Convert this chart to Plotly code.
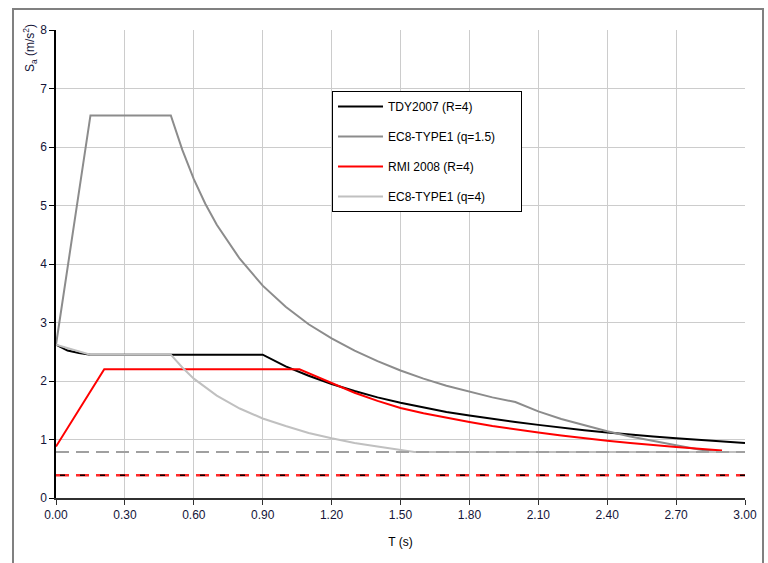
import plotly.graph_objects as go

# ---- data ----
tdy_T = [0.0, 0.05, 0.10, 0.15, 0.90, 1.0, 1.1, 1.2, 1.3, 1.4, 1.5, 1.6, 1.7, 1.8, 1.9, 2.0,
         2.1, 2.2, 2.3, 2.4, 2.5, 2.6, 2.7, 2.8, 2.9, 3.0]
tdy_Sa = [2.62, 2.52, 2.48, 2.45, 2.45, 2.25, 2.09, 1.95, 1.83, 1.72, 1.63, 1.55, 1.47, 1.41, 1.35, 1.30,
          1.25, 1.20, 1.16, 1.12, 1.08, 1.05, 1.02, 0.99, 0.96, 0.94]

ec8a_T = [0.0, 0.15, 0.50, 0.55, 0.60, 0.65, 0.70, 0.80, 0.90, 1.0, 1.1, 1.2, 1.3, 1.4, 1.5, 1.6,
          1.7, 1.8, 1.9, 2.0, 2.1, 2.2, 2.3, 2.4, 2.5, 2.6, 2.7, 2.8, 2.88, 3.0]
ec8a_Sa = [2.62, 6.54, 6.54, 5.95, 5.45, 5.03, 4.67, 4.09, 3.63, 3.27, 2.97, 2.73, 2.52, 2.34, 2.18, 2.04,
           1.92, 1.82, 1.72, 1.64, 1.48, 1.35, 1.24, 1.14, 1.05, 0.97, 0.90, 0.83, 0.785, 0.785]

rmi_T = [0.0, 0.21, 1.06, 1.2, 1.3, 1.4, 1.5, 1.6, 1.7, 1.8, 1.9, 2.0, 2.1, 2.2, 2.3, 2.4,
         2.5, 2.6, 2.7, 2.8, 2.9]
rmi_Sa = [0.88, 2.20, 2.20, 1.96, 1.80, 1.66, 1.54, 1.45, 1.37, 1.30, 1.23, 1.17, 1.12, 1.07, 1.02, 0.98,
          0.94, 0.90, 0.87, 0.84, 0.81]

ec8b_T = [0.0, 0.15, 0.50, 0.55, 0.60, 0.70, 0.80, 0.90, 1.0, 1.1, 1.2, 1.3, 1.4, 1.5, 1.56, 3.0]
ec8b_Sa = [2.62, 2.45, 2.45, 2.23, 2.04, 1.75, 1.53, 1.36, 1.23, 1.11, 1.02, 0.94, 0.88, 0.82, 0.785, 0.785]

limit_T = [0.0, 3.0]
limit_ec8 = [0.785, 0.785]
limit_low = [0.39, 0.39]

x_ticks = [0.0, 0.3, 0.6, 0.9, 1.2, 1.5, 1.8, 2.1, 2.4, 2.7, 3.0]
x_tick_labels = ["0.00", "0.30", "0.60", "0.90", "1.20", "1.50", "1.80", "2.10", "2.40", "2.70", "3.00"]

series_names = ["TDY2007 (R=4)", "EC8-TYPE1 (q=1.5)", "RMI 2008 (R=4)", "EC8-TYPE1 (q=4)"]

fig = go.Figure()

pad = "\u00a0" * 6  # widen legend box a little
fig.add_trace(go.Scatter(x=tdy_T, y=tdy_Sa, mode="lines", name=series_names[0],
                         line=dict(color="#000000", width=2), legendgroup="a"))
fig.add_trace(go.Scatter(x=ec8a_T, y=ec8a_Sa, mode="lines", name=series_names[1] + pad,
                         line=dict(color="#8c8c8c", width=2), legendgroup="b"))
fig.add_trace(go.Scatter(x=rmi_T, y=rmi_Sa, mode="lines", name=series_names[2],
                         line=dict(color="#ff0000", width=2), legendgroup="c"))
fig.add_trace(go.Scatter(x=ec8b_T, y=ec8b_Sa, mode="lines", name=series_names[3],
                         line=dict(color="#c0c0c0", width=2), legendgroup="d"))

fig.add_trace(go.Scatter(x=limit_T, y=limit_ec8, mode="lines", showlegend=False,
                         line=dict(color="#a0a0a0", width=2, dash="13px,7px")))
fig.add_trace(go.Scatter(x=limit_T, y=limit_low, mode="lines", showlegend=False,
                         line=dict(color="#ff2a2a", width=2.5, dash="13px,7px")))
fig.add_trace(go.Scatter(x=limit_T, y=limit_low, mode="lines", showlegend=False,
                         line=dict(color="#000000", width=1.5, dash="0px,4px,5px,11px")))

tick_font = dict(family="Liberation Sans, Arial, sans-serif", size=12, color="#141438")

fig.update_layout(
    width=768, height=563,
    margin=dict(l=56, r=23, t=30, b=65),
    paper_bgcolor="white", plot_bgcolor="white",
    font=dict(family="Liberation Sans, Arial, sans-serif", size=12, color="#000000"),
    legend=dict(x=0.4006, y=0.8697, xanchor="left", yanchor="top",
                bgcolor="white", bordercolor="#000000", borderwidth=1,
                font=dict(size=12, color="#000000"), tracegroupgap=11,
                traceorder="grouped", itemwidth=45),
    xaxis=dict(range=[0, 3], tickvals=x_ticks, ticktext=x_tick_labels,
               showgrid=True, gridcolor="#cccccc", gridwidth=1,
               zeroline=False, showline=True, linecolor="#303030", linewidth=1.5,
               ticks="outside", ticklen=5, tickcolor="#303030",
               tickfont=tick_font,
               title=dict(text="T (s)", font=dict(size=12, color="#000000"), standoff=16)),
    yaxis=dict(range=[0, 8], dtick=1, tickformat="d",
               showgrid=True, gridcolor="#cccccc", gridwidth=1,
               zeroline=False, showline=True, linecolor="#000000", linewidth=1.5,
               ticks="outside", ticklen=5, tickcolor="#000000",
               tickfont=tick_font),
    annotations=[dict(text="S<sub>a</sub> (m/s<sup>2</sup>)", xref="paper", yref="paper",
                      x=(30 - 56) / 689, y=(498 - 48) / 468, textangle=-90,
                      showarrow=False, xanchor="center", yanchor="middle",
                      font=dict(size=12, color="#141438"))],
    shapes=[dict(type="rect", xref="paper", yref="paper",
                 x0=(13 - 56) / 689, x1=(763 - 56) / 689,
                 y0=(498 - 580) / 468, y1=(498 - 9) / 468,
                 line=dict(color="#808080", width=2), fillcolor="rgba(0,0,0,0)", layer="below")],
    showlegend=True,
)

fig.write_html("out.html")
